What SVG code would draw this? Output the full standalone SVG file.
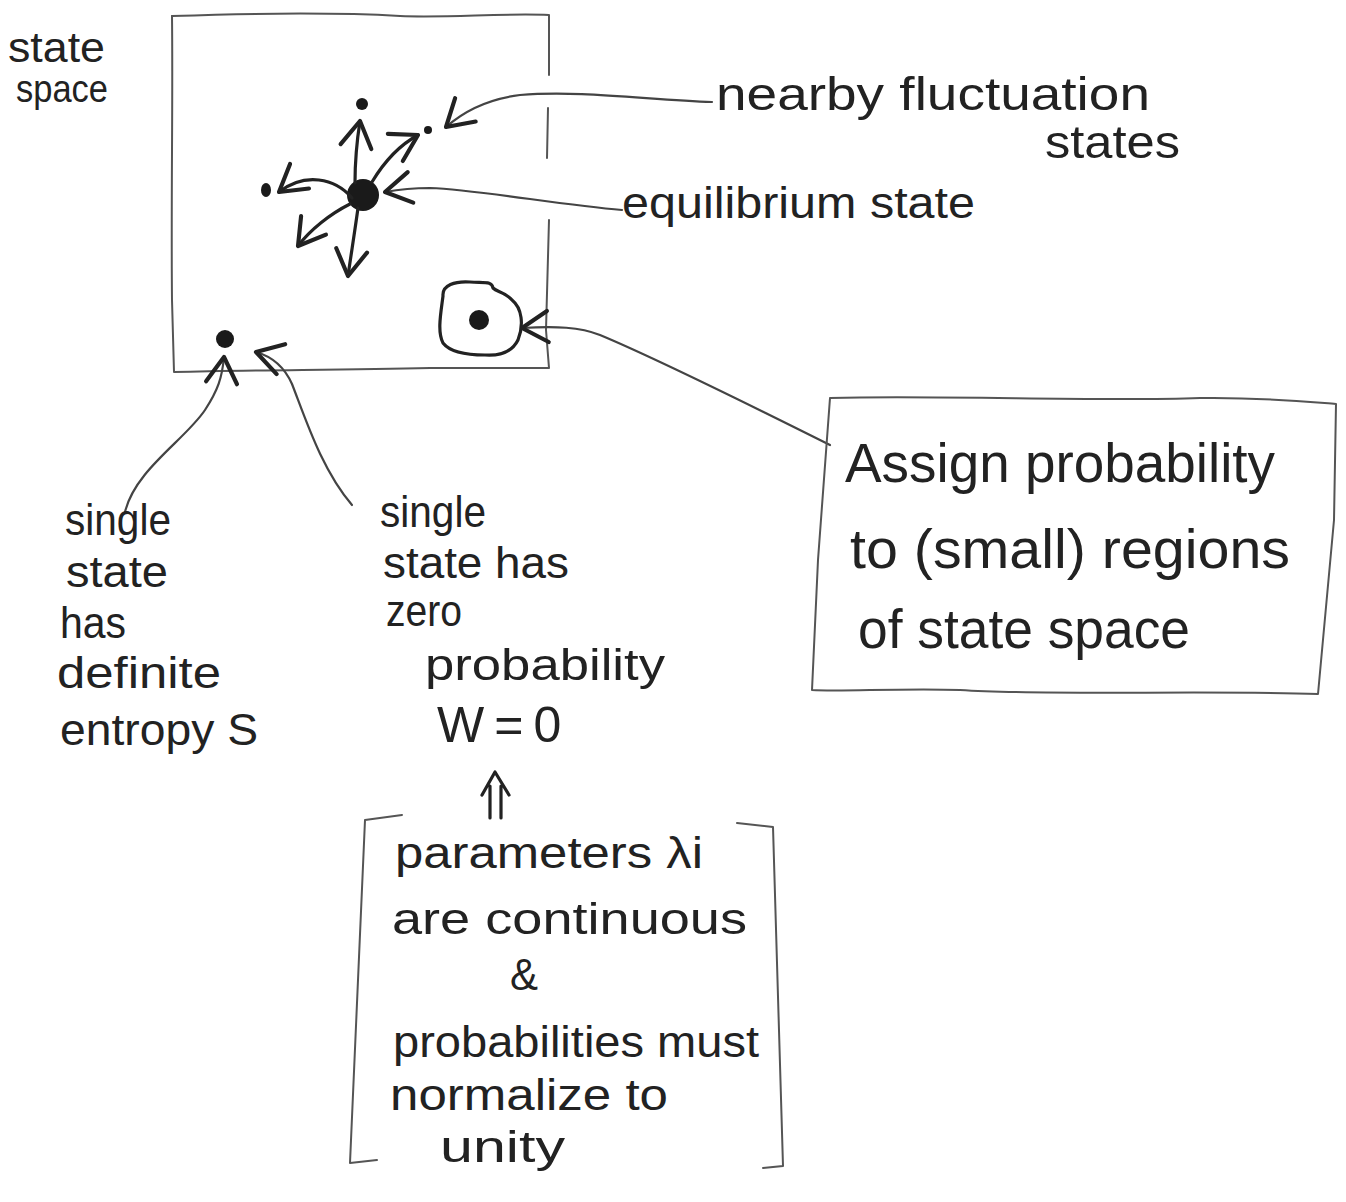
<svg xmlns="http://www.w3.org/2000/svg" width="1346" height="1202" viewBox="0 0 1346 1202">
  <defs>
    <style>
      .t { font-family: "Liberation Sans", Arial, sans-serif; fill: #222; }
      .ink { fill: none; stroke: #222; stroke-width: 3.2; stroke-linecap: round; stroke-linejoin: round; }
      .pencil { fill: none; stroke: #555; stroke-width: 2; stroke-linecap: round; stroke-linejoin: round; }
      .lead { fill: none; stroke: #444; stroke-width: 2.2; stroke-linecap: round; }
      .dot { fill: #1a1a1a; }
    </style>
    <marker id="open" markerUnits="userSpaceOnUse" markerWidth="44" markerHeight="44" refX="0" refY="0" viewBox="-24 -17 28 34" orient="auto">
      <path d="M -20 -12 L 0 0 L -20 12" fill="none" stroke="#222" stroke-width="3.2" stroke-linecap="round" stroke-linejoin="round"/>
    </marker>
  </defs>
  <rect width="1346" height="1202" fill="#ffffff"/>

  <g id="state-space-box">
    <path class="pencil" d="M 172 16 C 260 13, 330 12, 400 16 C 450 18, 500 13, 549 15 L 549 75"/>
    <path class="pencil" d="M 548 108 L 547 158"/>
    <path class="pencil" d="M 549 220 L 546 330 L 549 368 L 430 368 C 330 370, 250 370, 174 372 L 172 300 C 171 200, 173 100, 172 16"/>
  </g>

  <g id="state-space-label">
    <text class="t" x="8" y="62" font-size="42" textLength="97" lengthAdjust="spacingAndGlyphs">state</text>
    <text class="t" x="16" y="102" font-size="38" textLength="92" lengthAdjust="spacingAndGlyphs">space</text>
  </g>

  <g id="equilibrium-state">
    <circle class="dot" cx="363" cy="195" r="16"/>
  </g>
  <g id="fluctuation-state-up">
    <circle class="dot" cx="362" cy="104" r="6"/>
  </g>
  <g id="fluctuation-state-upper-right">
    <circle class="dot" cx="428" cy="130" r="4"/>
  </g>
  <g id="fluctuation-state-left">
    <ellipse class="dot" cx="266" cy="190" rx="5" ry="7"/>
  </g>
  <g id="single-state">
    <circle class="dot" cx="225" cy="339" r="9"/>
  </g>
  <g id="small-region">
    <path class="ink" d="M 443 296 C 442 285, 455 281, 470 282 C 485 283, 492 281, 493 288 C 497 292, 505 292, 512 300 C 522 308, 524 325, 518 340 C 512 352, 500 356, 485 355 C 468 355, 450 352, 443 343 C 437 332, 441 312, 443 296 Z"/>
    <circle class="dot" cx="479" cy="320" r="10"/>
  </g>

  <g id="fluctuation-arrows">
    <path class="ink" marker-end="url(#open)" d="M 355 183 C 355 160, 357 140, 360 121"/>
    <path class="ink" marker-end="url(#open)" d="M 372 182 C 384 162, 398 146, 418 135"/>
    <path class="ink" marker-end="url(#open)" d="M 352 198 C 335 178, 305 172, 279 192"/>
    <path class="ink" marker-end="url(#open)" d="M 350 204 C 330 214, 310 230, 298 246"/>
    <path class="ink" marker-end="url(#open)" d="M 358 208 C 355 230, 351 255, 348 276"/>
  </g>

  <g id="connectors">
    <path class="lead" marker-end="url(#open)" d="M 712 102 C 650 100, 580 90, 520 95 C 488 99, 463 112, 446 127"/>
    <path class="lead" marker-end="url(#open)" d="M 622 210 C 560 205, 480 190, 430 188 C 410 188, 396 190, 385 192"/>
    <path class="lead" marker-end="url(#open)" d="M 830 445 C 760 410, 660 360, 600 335 C 580 327, 556 326, 522 328"/>
    <path class="lead" marker-end="url(#open)" d="M 125 512 C 135 470, 185 440, 205 410 C 218 390, 222 378, 224 357"/>
    <path class="lead" marker-end="url(#open)" d="M 352 505 C 322 470, 306 420, 292 384 C 284 366, 270 356, 256 352"/>
    <g id="implies-arrow">
      <path class="ink" stroke-width="2.4" d="M 490 818 L 490 786 M 501 818 L 501 786 M 482 795 L 495 772 L 509 795"/>
    </g>
  </g>

  <g id="nearby-fluctuation-label">
    <text class="t" x="716" y="110" font-size="46" textLength="434" lengthAdjust="spacingAndGlyphs">nearby fluctuation</text>
    <text class="t" x="1045" y="158" font-size="46" textLength="135" lengthAdjust="spacingAndGlyphs">states</text>
  </g>

  <g id="equilibrium-label">
    <text class="t" x="622" y="218" font-size="44" textLength="353" lengthAdjust="spacingAndGlyphs">equilibrium state</text>
  </g>

  <g id="assign-probability-box">
    <path class="pencil" stroke="#777" stroke-width="1.6" d="M 830 398 C 950 395, 1100 402, 1200 398 C 1260 397, 1310 402, 1336 404 L 1334 520 L 1318 694 C 1200 690, 1050 696, 960 690 C 900 688, 840 692, 812 690 L 818 560 L 830 398"/>
    <text class="t" x="845" y="482" font-size="55" textLength="430" lengthAdjust="spacingAndGlyphs">Assign probability</text>
    <text class="t" x="850" y="568" font-size="55" textLength="440" lengthAdjust="spacingAndGlyphs">to (small) regions</text>
    <text class="t" x="858" y="648" font-size="55" textLength="332" lengthAdjust="spacingAndGlyphs">of state space</text>
  </g>

  <g id="definite-entropy-label">
    <text class="t" x="65" y="535" font-size="44" textLength="106" lengthAdjust="spacingAndGlyphs">single</text>
    <text class="t" x="66" y="587" font-size="44" textLength="102" lengthAdjust="spacingAndGlyphs">state</text>
    <text class="t" x="60" y="638" font-size="44" textLength="66" lengthAdjust="spacingAndGlyphs">has</text>
    <text class="t" x="57" y="688" font-size="44" textLength="164" lengthAdjust="spacingAndGlyphs">definite</text>
    <text class="t" x="60" y="745" font-size="44" textLength="198" lengthAdjust="spacingAndGlyphs">entropy S</text>
  </g>

  <g id="zero-probability-label">
    <text class="t" x="380" y="527" font-size="44" textLength="106" lengthAdjust="spacingAndGlyphs">single</text>
    <text class="t" x="383" y="578" font-size="44" textLength="186" lengthAdjust="spacingAndGlyphs">state has</text>
    <text class="t" x="386" y="626" font-size="44" textLength="76" lengthAdjust="spacingAndGlyphs">zero</text>
    <text class="t" x="425" y="680" font-size="44" textLength="240" lengthAdjust="spacingAndGlyphs">probability</text>
    <text class="t" x="437" y="742" font-size="50" letter-spacing="10">W=0</text>
  </g>

  <g id="continuity-note">
    <path class="pencil" stroke="#444" d="M 402 815 L 365 820 L 350 1163 L 377 1160"/>
    <path class="pencil" stroke="#444" d="M 737 823 L 773 827 L 783 1166 L 763 1168"/>
    <text class="t" x="395" y="868" font-size="44" textLength="308" lengthAdjust="spacingAndGlyphs">parameters λi</text>
    <text class="t" x="392" y="934" font-size="44" textLength="355" lengthAdjust="spacingAndGlyphs">are continuous</text>
    <text class="t" x="510" y="990" font-size="44" textLength="28" lengthAdjust="spacingAndGlyphs">&amp;</text>
    <text class="t" x="393" y="1057" font-size="44" textLength="366" lengthAdjust="spacingAndGlyphs">probabilities must</text>
    <text class="t" x="390" y="1110" font-size="44" textLength="278" lengthAdjust="spacingAndGlyphs">normalize to</text>
    <text class="t" x="440" y="1162" font-size="44" textLength="125" lengthAdjust="spacingAndGlyphs">unity</text>
  </g>
</svg>
